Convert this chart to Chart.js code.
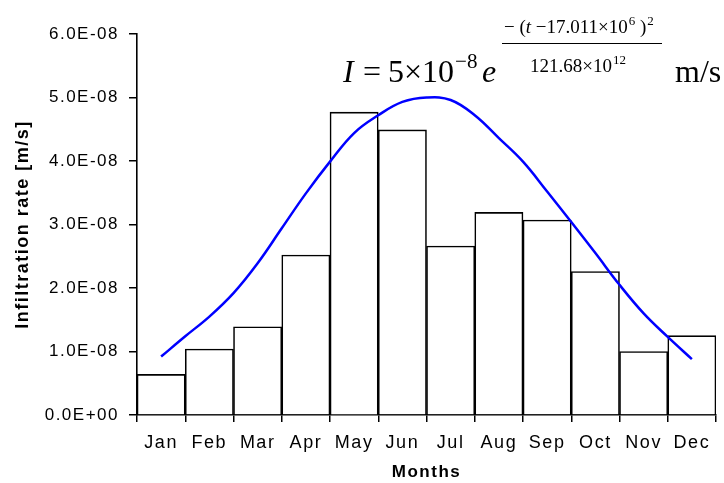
<!DOCTYPE html>
<html>
<head>
<meta charset="utf-8">
<script src="https://cdn.jsdelivr.net/npm/chart.js@4.4.1/dist/chart.umd.min.js"></script>
<style>
  html, body { margin: 0; padding: 0; background: #fff; }
  #wrap { width: 724px; height: 483px; }
</style>
</head>
<body>
<div id="wrap"><canvas id="infilChart" width="724" height="483"></canvas></div>
<script>
// monthly infiltration rate [m/s]
const months = ['Jan', 'Feb', 'Mar', 'Apr', 'May', 'Jun', 'Jul', 'Aug', 'Sep', 'Oct', 'Nov', 'Dec'];
const infiltration = [6.4e-9, 1.04e-8, 1.39e-8, 2.52e-8, 4.77e-8, 4.49e-8, 2.66e-8, 3.19e-8, 3.07e-8, 2.26e-8, 1.0e-8, 1.25e-8];

// fitted curve, read at month centres and month boundaries (position in months)
const curvePos = [0.5, 1, 1.5, 2, 2.5, 3, 3.5, 4, 4.5, 5, 5.5, 6, 6.5, 7, 7.5, 8, 8.5, 9, 9.5, 10, 10.5, 11, 11.5];
const curveVal = [0.92e-8, 1.24e-8, 1.55e-8, 1.92e-8, 2.39e-8, 2.94e-8, 3.49e-8, 3.99e-8, 4.44e-8, 4.72e-8, 4.93e-8, 5.0e-8,
                  4.96e-8, 4.72e-8, 4.36e-8, 3.99e-8, 3.52e-8, 3.04e-8, 2.55e-8, 2.05e-8, 1.6e-8, 1.23e-8, 0.88e-8];

const yTicks = [0, 1e-8, 2e-8, 3e-8, 4e-8, 5e-8, 6e-8];

function fmtExp(v) {
  if (v === 0) return '0.0E+00';
  const parts = v.toExponential(1).split('e');
  const e = parseInt(parts[1], 10);
  const sign = e < 0 ? '-' : '+';
  return parts[0] + 'E' + sign + String(Math.abs(e)).padStart(2, '0');
}

// the original text is drawn a bit wide, use some letter spacing
const spacing = {
  id: 'spacing',
  beforeUpdate(chart) { chart.ctx.letterSpacing = '1.5px'; },
  beforeDraw(chart) { chart.ctx.letterSpacing = '1.5px'; }
};

// formula in the upper right
const formula = {
  id: 'formula',
  afterDraw(chart) {
    const ctx = chart.ctx;
    ctx.save();
    ctx.letterSpacing = '0px';
    ctx.fillStyle = '#000';
    ctx.textBaseline = 'alphabetic';
    ctx.textAlign = 'left';
    const serif = "'Liberation Serif', 'Times New Roman', serif";

    function put(txt, x, y, size, italic) {
      ctx.font = (italic ? 'italic ' : '') + size + 'px ' + serif;
      ctx.fillText(txt, x, y);
      return x + ctx.measureText(txt).width;
    }

    put('I', 343, 82, 32, true);
    put('=', 363, 82, 32, false);
    let x = put('5×10', 388, 82, 32, false);
    put('−8', x + 1, 68, 21, false);
    put('e', 482, 82, 32, true);

    // exponent fraction
    x = put('− (', 504, 33, 19, false);
    x = put('t', x, 33, 19, true);
    x = put(' −17.011×10', x, 33, 19, false);
    x = put('6', x + 1, 25, 13, false);
    x = put(' )', x, 33, 19, false);
    put('2', x + 1, 25, 13, false);

    ctx.strokeStyle = '#000';
    ctx.lineWidth = 1;
    ctx.beginPath();
    ctx.moveTo(502, 43.5);
    ctx.lineTo(662, 43.5);
    ctx.stroke();

    x = put('121.68×10', 530, 72, 19, false);
    put('12', x + 1, 64, 13, false);

    put('m/s', 675, 82, 32, false);
    ctx.restore();
  }
};

const ctx = document.getElementById('infilChart').getContext('2d');

new Chart(ctx, {
  type: 'bar',
  data: {
    labels: months,
    datasets: [
      {
        type: 'line',
        label: 'fit',
        data: curvePos.map((p, i) => ({ x: p, y: curveVal[i] })),
        xAxisID: 'x2',
        borderColor: '#0000ff',
        borderWidth: 2.5,
        pointRadius: 0,
        tension: 0.4,
        fill: false,
        order: 0
      },
      {
        label: 'Infiltration',
        data: infiltration,
        xAxisID: 'x',
        backgroundColor: '#ffffff',
        borderColor: '#000000',
        borderWidth: 1.6,
        grouped: false,
        barPercentage: 1,
        categoryPercentage: 1,
        order: 1
      }
    ]
  },
  options: {
    responsive: false,
    animation: false,
    layout: { padding: { top: 34, right: 8, left: 0, bottom: 0 } },
    plugins: {
      legend: { display: false },
      tooltip: { enabled: false },
      title: { display: false }
    },
    scales: {
      x: {
        type: 'category',
        offset: true,
        grid: { display: true, drawOnChartArea: false, offset: true, color: '#000', lineWidth: 1.5, tickLength: 7 },
        border: { display: true, color: '#000', width: 1.6 },
        ticks: {
          color: '#000',
          padding: 10,
          maxRotation: 0,
          autoSkip: false,
          font: { family: "'Liberation Sans', Arial, sans-serif", size: 18 }
        },
        title: {
          display: true,
          text: 'Months',
          color: '#000',
          padding: { top: 4, bottom: 0 },
          font: { family: "'Liberation Sans', Arial, sans-serif", size: 17, weight: 'bold' }
        },
        afterFit(scale) { scale.height = 68; }
      },
      x2: {
        type: 'linear',
        display: false,
        min: 0,
        max: 12,
        offset: false
      },
      y: {
        min: 0,
        max: 6e-8,
        afterBuildTicks(scale) { scale.ticks = yTicks.map(v => ({ value: v })); },
        grid: { display: true, drawOnChartArea: false, color: '#000', lineWidth: 1.5, tickLength: 8 },
        border: { display: true, color: '#000', width: 1.6 },
        ticks: {
          color: '#000',
          padding: 10,
          font: { family: "'Liberation Sans', Arial, sans-serif", size: 17 },
          callback: v => fmtExp(v)
        },
        title: {
          display: true,
          text: 'Infiltration rate [m/s]',
          color: '#000',
          padding: { top: 12, bottom: 0 },
          font: { family: "'Liberation Sans', Arial, sans-serif", size: 18, weight: 'bold' }
        },
        afterFit(scale) { scale.width = 137; }
      }
    }
  },
  plugins: [spacing, formula]
});
</script>
</body>
</html>
